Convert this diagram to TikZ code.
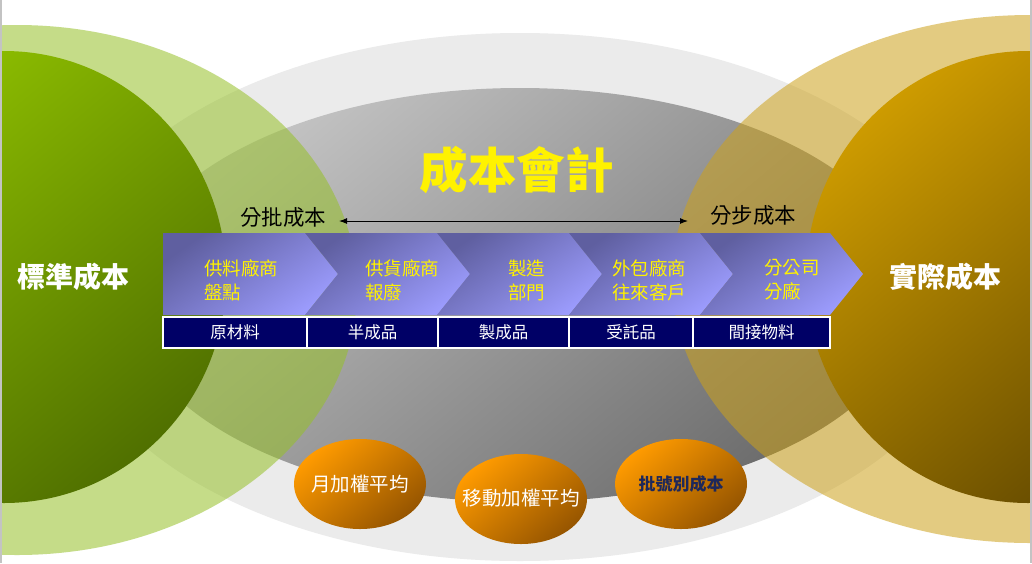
\documentclass[tikz,border=0pt]{standalone}
\usepackage{fontspec}
\setmainfont{Noto Sans CJK TC}
\usetikzlibrary{arrows.meta,shapes.geometric}
\definecolor{grayout}{RGB}{235,235,235}
\definecolor{grayin1}{RGB}{196,196,196}
\definecolor{grayin2}{RGB}{108,108,108}
\definecolor{lgreen}{RGB}{150,192,40}
\definecolor{lgold}{RGB}{205,162,27}
\definecolor{dgreen1}{RGB}{145,195,0}
\definecolor{dgreen2}{RGB}{80,112,0}
\definecolor{dgold1}{RGB}{205,155,0}
\definecolor{dgold2}{RGB}{95,70,0}
\definecolor{chev1}{RGB}{95,95,160}
\definecolor{chev2}{RGB}{155,155,252}
\definecolor{navycell}{RGB}{0,0,102}
\definecolor{orange1}{RGB}{255,155,0}
\definecolor{orange2}{RGB}{150,85,0}
\definecolor{navytext}{RGB}{30,40,90}
\definecolor{edgegray}{RGB}{195,195,195}
\begin{document}
\begin{tikzpicture}[x=1pt,y=-1pt,
  chevshade/.style={top color=chev1, bottom color=chev2, shading angle=35},
  chevtext/.style={anchor=west, inner sep=0pt, align=left, text=yellow,
    font=\fontsize{18.5}{24}\selectfont},
  cell/.style={draw=white, line width=1.2pt, fill=navycell, text=white,
    minimum height=31pt, inner sep=0pt, font=\fontsize{16.5}{18}\selectfont},
  orb/.style={ellipse, top color=orange1, bottom color=orange2, shading angle=40,
    minimum width=132pt, minimum height=90pt, inner sep=0pt},
  orbtext/.style={inner sep=0pt},
  sidelabel/.style={text=white, font=\fontsize{28}{30}\selectfont\bfseries, inner sep=0pt},
  costlabel/.style={text=black, font=\fontsize{21.5}{24}\selectfont, inner sep=0pt}]
\useasboundingbox (0,0) rectangle (1032,563);
\clip (0,0) rectangle (1032,563);
\fill[white] (0,0) rectangle (1032,563);
% background ellipses
\fill[grayout] (520,297) ellipse [x radius=455, y radius=264];
\shade[top color=grayin1, bottom color=grayin2, shading angle=40] (520,295) ellipse [x radius=395, y radius=207];
\fill[lgreen, opacity=0.55] (17,290) ellipse [x radius=340, y radius=265];
\fill[lgold, opacity=0.55] (1030,279) ellipse [x radius=358, y radius=264];
\shade[top color=dgreen1, bottom color=dgreen2, shading angle=40] (4,277) ellipse [x radius=222, y radius=226];
\shade[top color=dgold1, bottom color=dgold2, shading angle=40] (1028,277) ellipse [x radius=222, y radius=226];
% frame edges
\draw[edgegray, line width=1.5pt] (0.75,0) -- (0.75,563);
\draw[edgegray, line width=1.5pt] (1030.75,0) -- (1030.75,563);
% chevrons
\shade[chevshade] (163,233) -- (305,233) -- (338,274) -- (305,315) -- (163,315) -- cycle;
\shade[chevshade] (305,233) -- (437,233) -- (470,274) -- (437,315) -- (305,315) -- (338,274) -- cycle;
\shade[chevshade] (437,233) -- (569,233) -- (602,274) -- (569,315) -- (437,315) -- (470,274) -- cycle;
\shade[chevshade] (569,233) -- (700,233) -- (733,274) -- (700,315) -- (569,315) -- (602,274) -- cycle;
\shade[chevshade] (700,233) -- (830,233) -- (863,274) -- (830,315) -- (700,315) -- (733,274) -- cycle;
\node[chevtext] (t1) at (204,280) {供料廠商\\盤點};
\node[chevtext] (t2) at (365,280) {供貨廠商\\報廢};
\node[chevtext] (t3) at (508,280) {製造\\部門};
\node[chevtext] (t4) at (612,280) {外包廠商\\往來客戶};
\node[chevtext] (t5) at (764,280) {分公司\\分廠};
% table row
\node[cell, minimum width=144pt] (c1) at (235,332.5) {原材料};
\node[cell, minimum width=131pt] (c2) at (372.5,332.5) {半成品};
\node[cell, minimum width=131pt] (c3) at (503.5,332.5) {製成品};
\node[cell, minimum width=124pt] (c4) at (631,332.5) {受託品};
\node[cell, minimum width=137pt] (c5) at (761.5,332.5) {間接物料};
% title and labels
\node[text=yellow, font=\fontsize{48.5}{50}\selectfont\bfseries, inner sep=0pt] (title) at (516.5,170) {成本會計};
\node[sidelabel] (std) at (73,277) {標準成本};
\node[sidelabel] (act) at (945,277) {實際成本};
\node[costlabel] (batch) at (283,217) {分批成本};
\node[costlabel] (step) at (753,215) {分步成本};
\coordinate (al) at (339,221);
\coordinate (ar) at (688,221);
\draw[line width=1pt, {Latex[length=8pt,width=6pt]}-{Latex[length=8pt,width=6pt]}] (al) -- (ar);
% bottom orbs
\node[orb] (o1) at (360,484) {};
\node[orb] (o2) at (521,499) {};
\node[orb] (o3) at (681,484) {};
\node[orbtext, text=white, font=\fontsize{19.5}{21}\selectfont] (o1t) at (o1.center) {月加權平均};
\node[orbtext, text=white, font=\fontsize{19.5}{21}\selectfont] (o2t) at (521,498) {移動加權平均};
\node[orbtext, text=navytext, font=\fontsize{17}{19}\selectfont\bfseries] (o3t) at (o3.center) {批號別成本};
\end{tikzpicture}
\end{document}
